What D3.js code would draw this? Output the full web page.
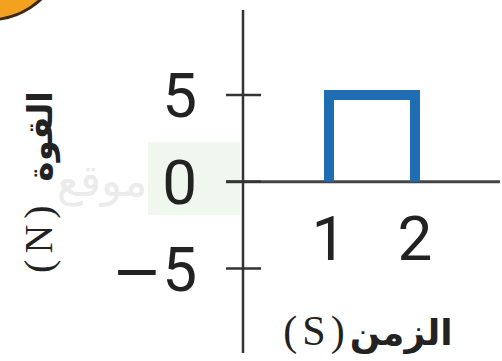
<!DOCTYPE html>
<html>
<head>
<meta charset="utf-8">
<script src="https://cdn.jsdelivr.net/npm/d3@7"></script>
<style>
  html, body { margin: 0; padding: 0; background: #fff; }
  svg { display: block; }
</style>
</head>
<body>
<svg id="chart" width="502" height="361"></svg>
<script>
// Force (N) against time (s): a 5 N pulse between t = 1 s and t = 2 s
const time = [1, 1, 2, 2];
const force = [0, 5, 5, 0];
const yTicks = [5, 0, -5];
const yTickLabels = ["5", "0", "\u22125"];
const xTicks = [1, 2];
const xTickLabels = ["1", "2"];
const yTitle = ["(N)", "القوة"];
const xTitle = ["(S)", "الزمن"];

const svg = d3.select("#chart");

const x = d3.scaleLinear().domain([0, 2]).range([243, 415]);
const y = d3.scaleLinear().domain([-5, 5]).range([268.5, 95]);

// corner decoration
svg.append("circle")
  .attr("cx", -12).attr("cy", -58).attr("r", 78)
  .attr("fill", "#f2a21e")
  .attr("stroke", "#3b2a12").attr("stroke-width", 3);

// faint site mark behind the axes
svg.append("rect")
  .attr("x", 148).attr("y", 142).attr("width", 92).attr("height", 73)
  .attr("fill", "#f0f7ee");
svg.append("text")
  .attr("x", 102).attr("y", 196)
  .attr("text-anchor", "middle")
  .attr("font-family", "'DejaVu Sans', sans-serif")
  .attr("font-size", 44)
  .attr("fill", "#ebebeb")
  .text("موقع");

const axisColor = "#333";

// vertical axis
svg.append("line")
  .attr("x1", x(0)).attr("x2", x(0))
  .attr("y1", 10).attr("y2", 353)
  .attr("stroke", axisColor).attr("stroke-width", 2.5);

// horizontal axis
svg.append("line")
  .attr("x1", 226).attr("x2", 500)
  .attr("y1", y(0)).attr("y2", y(0))
  .attr("stroke", "#444").attr("stroke-width", 3);

// y ticks crossing the axis
svg.selectAll(".ytick")
  .data(yTicks)
  .join("line")
  .attr("class", "ytick")
  .attr("x1", x(0) - 17).attr("x2", x(0) + 18)
  .attr("y1", d => y(d)).attr("y2", d => y(d))
  .attr("stroke", axisColor).attr("stroke-width", 2.5);

// y tick labels; the minus sign is set in a wider face
svg.selectAll(".ylabel")
  .data(yTicks)
  .join("text")
  .attr("class", "ylabel")
  .attr("x", 197)
  .attr("y", d => y(d))
  .attr("dy", "0.355em")
  .attr("text-anchor", "end")
  .attr("font-family", "Roboto, sans-serif")
  .attr("font-size", 62)
  .attr("fill", "#222")
  .each(function (d, i) {
    const label = yTickLabels[i];
    const t = d3.select(this);
    if (label.startsWith("\u2212")) {
      t.append("tspan")
        .attr("font-family", "'DejaVu Sans', sans-serif")
        .attr("font-size", 60)
        .text("\u2212");
      t.append("tspan").text(label.slice(1));
    } else {
      t.text(label);
    }
  });

// x tick labels
svg.selectAll(".xlabel")
  .data(xTicks)
  .join("text")
  .attr("class", "xlabel")
  .attr("x", d => x(d))
  .attr("y", 260)
  .attr("text-anchor", "middle")
  .attr("font-family", "Roboto, sans-serif")
  .attr("font-size", 62)
  .attr("fill", "#222")
  .text((d, i) => xTickLabels[i]);

// force pulse
const line = d3.line()
  .x((d, i) => x(time[i]))
  .y(d => y(d));
svg.append("path")
  .datum(force)
  .attr("d", line)
  .attr("fill", "none")
  .attr("stroke", "#1f6db3")
  .attr("stroke-width", 10)
  .attr("stroke-linejoin", "miter");

// axis titles
const yt = svg.append("text")
  .attr("transform", "translate(52,182) rotate(-90)")
  .attr("text-anchor", "middle")
  .attr("font-size", 40)
  .attr("fill", "#222");
yt.append("tspan")
  .attr("font-family", "'Liberation Serif', serif")
  .attr("letter-spacing", 6)
  .text(yTitle[0]);
yt.append("tspan")
  .attr("dx", 18)
  .attr("font-family", "'DejaVu Sans', sans-serif")
  .attr("font-weight", "bold")
  .attr("font-size", 34)
  .text(yTitle[1]);

const xt = svg.append("text")
  .attr("x", 368).attr("y", 345)
  .attr("text-anchor", "middle")
  .attr("font-size", 42)
  .attr("fill", "#222");
xt.append("tspan")
  .attr("font-family", "'Liberation Serif', serif")
  .attr("letter-spacing", 5)
  .text(xTitle[0]);
xt.append("tspan")
  .attr("font-family", "'DejaVu Sans', sans-serif")
  .attr("font-weight", "bold")
  .attr("font-size", 36)
  .text(xTitle[1]);
</script>
</body>
</html>
